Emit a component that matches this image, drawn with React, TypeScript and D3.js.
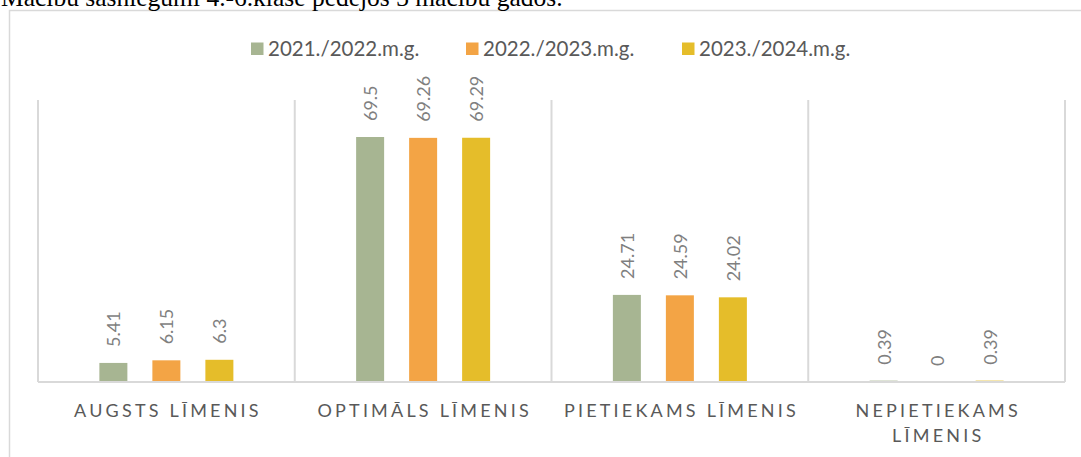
import React, { useEffect, useRef } from 'react';
import * as d3 from 'd3';

const title = 'Mācību sasniegumi 4.-6.klase pēdējos 3 mācību gados.';
const categories = ['AUGSTS LĪMENIS', 'OPTIMĀLS LĪMENIS', 'PIETIEKAMS LĪMENIS', 'NEPIETIEKAMS LĪMENIS'];
const seriesNames = ['2021./2022.m.g.', '2022./2023.m.g.', '2023./2024.m.g.'];
const seriesColors = ['#a7b592', '#f3a445', '#e5bd2a'];
const values2021 = [5.41, 69.5, 24.71, 0.39];
const values2022 = [6.15, 69.26, 24.59, 0];
const values2023 = [6.3, 69.29, 24.02, 0.39];
const yMax = 80;

const WIDTH = 1081;
const HEIGHT = 457;
const FONT = 'Lato, "Open Sans", sans-serif';

const App: React.FC = () => {
  const svgRef = useRef<SVGSVGElement>(null);

  useEffect(() => {
    document.body.style.margin = '0';
    if (!svgRef.current) return;
    const svg = d3.select(svgRef.current);
    svg.selectAll('*').remove();

    const series = [values2021, values2022, values2023];
    const margin = { left: 38, right: 16, top: 100, bottom: 75 };
    const plotW = WIDTH - margin.left - margin.right;

    // Chart frame
    svg.append('rect')
      .attr('x', 9.5)
      .attr('y', 10.5)
      .attr('width', WIDTH + 10)
      .attr('height', HEIGHT + 10)
      .attr('fill', 'none')
      .attr('stroke', '#d9d9d9')
      .attr('stroke-width', 1.5);

    // Title (partly cut off at the top, as in the document)
    svg.append('text')
      .attr('x', 1)
      .attr('y', 6)
      .attr('fill', '#000')
      .style('font-family', '"Liberation Serif", "Times New Roman", serif')
      .style('font-size', '25.5px')
      .text(title);

    const x0 = d3.scaleBand<string>()
      .domain(categories)
      .range([margin.left, margin.left + plotW])
      .paddingInner(0)
      .paddingOuter(0);

    const innerW = 3 * 28 + 2 * 25;
    const x1 = d3.scaleBand<number>()
      .domain(d3.range(series.length))
      .range([-innerW / 2, innerW / 2])
      .paddingInner(25 / 53)
      .paddingOuter(0);

    const y = d3.scaleLinear()
      .domain([0, yMax])
      .range([HEIGHT - margin.bottom, margin.top]);

    // Vertical category separators
    const bounds = [...categories.map(c => x0(c)!), x0.range()[1]];
    svg.append('g')
      .selectAll('line')
      .data(bounds)
      .join('line')
      .attr('x1', d => d)
      .attr('x2', d => d)
      .attr('y1', y(yMax))
      .attr('y2', y(0))
      .attr('stroke', '#d9d9d9')
      .attr('stroke-width', 2);

    // Bars
    series.forEach((vals, si) => {
      const g = svg.append('g');
      g.selectAll('rect')
        .data(vals)
        .join('rect')
        .attr('x', (_, i) => x0(categories[i])! + x0.bandwidth() / 2 + x1(si)!)
        .attr('y', d => y(d))
        .attr('width', x1.bandwidth())
        .attr('height', d => y(0) - y(d))
        .attr('fill', seriesColors[si]);

      g.selectAll('text')
        .data(vals)
        .join('text')
        .attr('transform', (d, i) => {
          const cx = x0(categories[i])! + x0.bandwidth() / 2 + x1(si)! + x1.bandwidth() / 2;
          return `translate(${cx},${y(d) - 16}) rotate(-90)`;
        })
        .attr('text-anchor', 'start')
        .attr('dominant-baseline', 'central')
        .attr('fill', '#7f7f7f')
        .style('font-family', FONT)
        .style('font-size', '18px')
        .text(d => String(d));
    });

    // X axis line
    svg.append('line')
      .attr('x1', x0.range()[0])
      .attr('x2', x0.range()[1])
      .attr('y1', y(0))
      .attr('y2', y(0))
      .attr('stroke', '#d9d9d9')
      .attr('stroke-width', 2);

    // Category labels, wrapped when wider than the band
    const spacing = 3.2;
    categories.forEach(cat => {
      const cx = x0(cat)! + x0.bandwidth() / 2;
      const t = svg.append('text')
        .attr('x', cx + spacing / 2)
        .attr('y', 417)
        .attr('text-anchor', 'middle')
        .attr('fill', '#595959')
        .style('font-family', FONT)
        .style('font-size', '18px')
        .style('letter-spacing', `${spacing}px`)
        .text(cat);
      const len = (t.node() as SVGTextElement).getComputedTextLength();
      if (len > x0.bandwidth() - 8) {
        const words = cat.split(' ');
        t.text(null);
        words.forEach((w, i) => {
          t.append('tspan')
            .attr('x', cx + spacing / 2)
            .attr('dy', i === 0 ? 0 : 25)
            .text(w);
        });
      }
    });

    // Legend
    const legendStarts = [251, 466, 682];
    const legend = svg.append('g');
    seriesNames.forEach((name, i) => {
      legend.append('rect')
        .attr('x', legendStarts[i])
        .attr('y', 42.5)
        .attr('width', 12.5)
        .attr('height', 12.5)
        .attr('fill', seriesColors[i]);
      legend.append('text')
        .attr('x', legendStarts[i] + 17)
        .attr('y', 55.5)
        .attr('fill', '#595959')
        .style('font-family', FONT)
        .style('font-size', '20.5px')
        .text(name);
    });
  }, []);

  return (
    <svg
      ref={svgRef}
      width={WIDTH}
      height={HEIGHT}
      style={{ display: 'block', background: '#fff' }}
    />
  );
};

export default App;
